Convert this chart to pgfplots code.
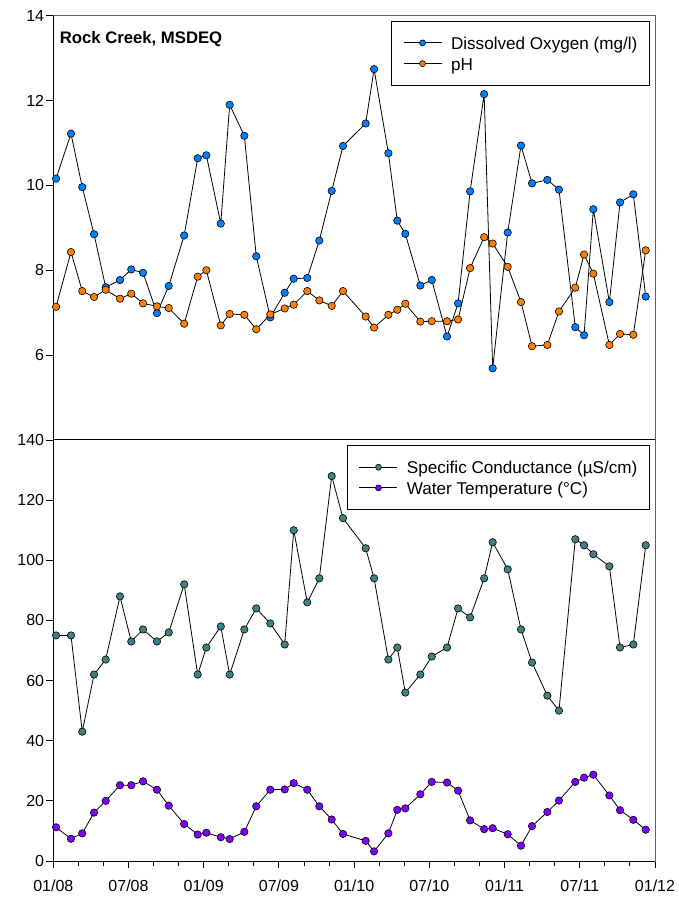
\documentclass[border=0pt]{standalone}
\usepackage{pgfplots}
\pgfplotsset{compat=1.18}
\usepackage{pgfplotstable}
\usepackage{fontspec}
\setmainfont{Liberation Sans}

\definecolor{doblue}{RGB}{0,128,255}
\definecolor{phorange}{RGB}{255,128,0}
\definecolor{scteal}{RGB}{64,128,128}
\definecolor{wtpurple}{RGB}{128,0,255}
\definecolor{framegray}{RGB}{96,96,96}

% Rock Creek monitoring record; t = months since January 2008
\pgfplotstableread{
t     DO    pH   SC   WT
0.22  10.16 7.14 75   11.2
1.41  11.22 8.43 75   7.4
2.31  9.96  7.51 43   9.2
3.25  8.85  7.37 62   16.1
4.18  7.60  7.54 67   20.0
5.32  7.77  7.33 88   25.2
6.22  8.02  7.45 73   25.2
7.16  7.94  7.22 77   26.5
8.27  6.99  7.15 73   23.7
9.21  7.63  7.11 76   18.4
10.44 8.82  6.74 92   12.3
11.52 10.64 7.85 62   8.8
12.21 10.71 8.00 71   9.4
13.36 9.10  6.70 78   7.9
14.07 11.90 6.97 62   7.3
15.24 11.17 6.95 77   9.7
16.19 8.33  6.61 84   18.2
17.31 6.89  6.96 79   23.7
18.46 7.47  7.10 72   23.8
19.18 7.80  7.19 110  25.9
20.26 7.82  7.51 86   23.7
21.22 8.70  7.29 94   18.2
22.21 9.87  7.16 128  13.8
23.11 10.93 7.51 114  9.0
24.92 11.46 6.91 104  6.7
25.59 12.74 6.65 94   3.2
26.73 10.76 6.95 67   9.2
27.44 9.17  7.07 71   17.0
28.08 8.86  7.21 56   17.5
29.28 7.64  6.79 62   22.2
30.19 7.77  6.80 68   26.3
31.41 6.44  6.80 71   26.1
32.29 7.22  6.84 84   23.4
33.25 9.86  8.05 81   13.5
34.37 12.15 8.78 94   10.6
35.05 5.69  8.63 106  10.9
36.25 8.89  8.08 97   8.9
37.31 10.94 7.25 77   5.1
38.19 10.05 6.21 66   11.6
39.41 10.13 6.24 55   16.3
40.34 9.90  7.03 50   20.1
41.64 6.66  7.59 107  26.3
42.34 6.47  8.37 105  27.7
43.08 9.44  7.92 102  28.7
44.36 7.25  6.24 98   21.8
45.21 9.60  6.50 71   16.9
46.27 9.79  6.48 72   13.7
47.26 7.38  8.47 105  10.4
}\datatable

\pgfplotsset{
  panel/.style={
    scale only axis, width=601.7pt, xmin=0, xmax=48,
    clip=false,
    axis line style={framegray, line width=1pt},
    tick style={black, line width=0.9pt},
    tick align=outside,
    xtick pos=bottom, ytick pos=left,
    major tick length=7pt, minor tick length=4.5pt,
    ticklabel style={font=\fontsize{16}{19}\selectfont},
    yticklabel style={inner xsep=2pt},
    xticklabel style={yshift=-8pt},
    /pgf/number format/assume math mode=true,
    legend cell align=left,
    legend style={
      at={(rel axis cs:1,1)}, xshift=-5.3pt, yshift=-5pt, anchor=north east,
      draw=black, line width=0.8pt, fill=white,
      inner xsep=12pt, inner ysep=12.4pt, row sep=1.9pt,
      font=\fontsize{17.1}{20}\selectfont,
      nodes={inner sep=0pt, text height=16pt, text depth=2.8pt},
    },
    legend image code/.code={
      \path[draw=none, fill=none] (0pt,0pt) -- (47.5pt,0pt);
      \draw[mark repeat=2, mark phase=2, #1, mark size=3pt]
        plot coordinates {(0pt,0pt) (19pt,0pt) (38pt,0pt)};
    },
  },
  series/.style={black, line width=0.8pt, mark=*, mark size=3.7pt,
    mark options={fill=#1, draw=black, line width=0.6pt}},
}

\begin{document}
\begin{tikzpicture}
% lower panel: conductance and temperature
\begin{axis}[panel, at={(0pt,0pt)}, anchor=south west, height=421pt,
  ymin=0, ymax=140, ytick={0,20,...,140},
  xtick={0,6,...,48},
  xticklabels={01/08,07/08,01/09,07/09,01/10,07/10,01/11,07/11,01/12},
  minor xtick={2,4,8,10,14,16,20,22,26,28,32,34,38,40,44,46}]
\addplot[series=scteal] table[x=t, y=SC] {\datatable};
\addlegendentry{Specific Conductance (µS/cm)}
\addplot[series=wtpurple] table[x=t, y=WT] {\datatable};
\addlegendentry{Water Temperature (°C)}
\draw[black, line width=1pt] (rel axis cs:0,1) -- (rel axis cs:0,0) -- (rel axis cs:1,0);
\end{axis}
% upper panel: dissolved oxygen and pH
\begin{axis}[panel, at={(0pt,421pt)}, anchor=south west, height=424.3pt,
  ymin=4, ymax=14, ytick={6,8,...,14}, xtick=\empty]
\addplot[series=doblue] table[x=t, y=DO] {\datatable};
\addlegendentry{Dissolved Oxygen (mg/l)}
\addplot[series=phorange] table[x=t, y=pH] {\datatable};
\addlegendentry{pH}
\draw[black, line width=1pt] (rel axis cs:0,1) -- (rel axis cs:0,0) -- (rel axis cs:1,0);
\node[anchor=base west, font=\bfseries\fontsize{16.7}{20}\selectfont]
  at (rel axis cs:0,1) [xshift=3pt, yshift=-27.5pt] {Rock Creek, MSDEQ};
\end{axis}
\pgfresetboundingbox
\path[use as bounding box] (-53.3pt,-36pt) rectangle (625.7pt,861pt);
\end{tikzpicture}
\end{document}
